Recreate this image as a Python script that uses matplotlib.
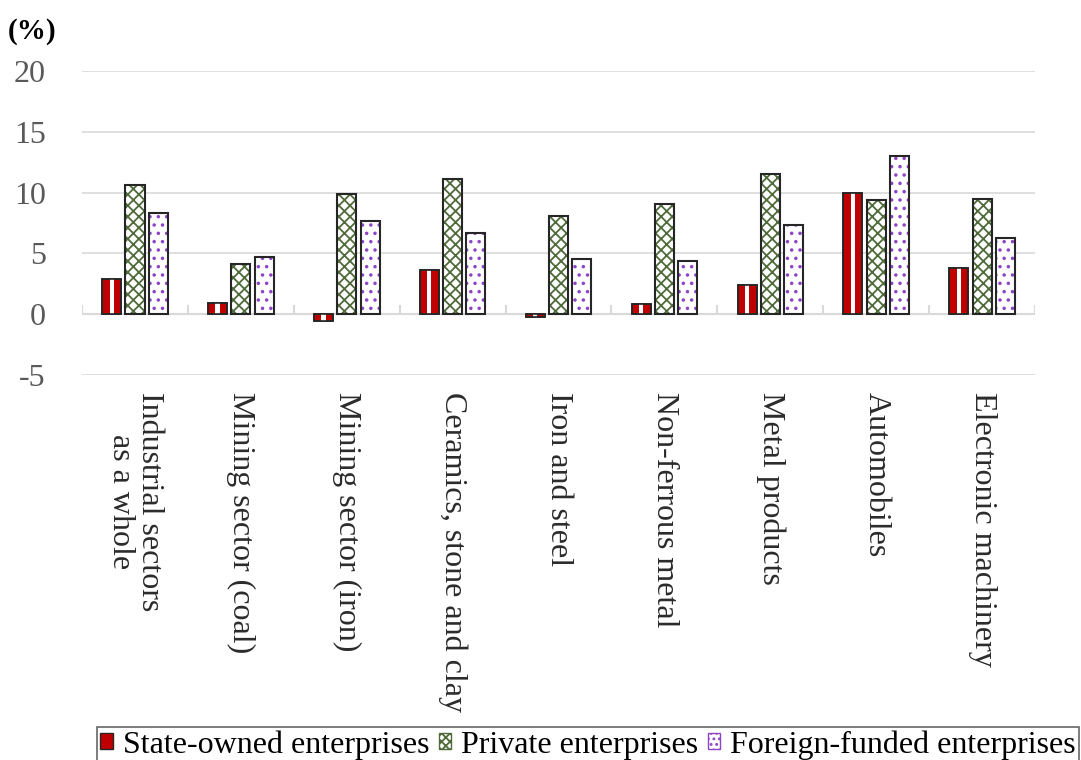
"""Growth rates by ownership type across industrial sectors (bar chart, Excel style)."""

import matplotlib
matplotlib.use("Agg")
import matplotlib.pyplot as plt
import numpy as np

categories = [
    "Industrial sectors\nas a whole",
    "Mining sector (coal)",
    "Mining sector (iron)",
    "Ceramics, stone and clay",
    "Iron and steel",
    "Non-ferrous metal",
    "Metal products",
    "Automobiles",
    "Electronic machinery",
]
state_owned = [2.9, 0.9, -0.6, 3.6, -0.2, 0.8, 2.4, 10.0, 3.8]
private = [10.6, 4.1, 9.9, 11.1, 8.1, 9.1, 11.5, 9.4, 9.5]
foreign = [8.3, 4.7, 7.7, 6.7, 4.5, 4.4, 7.3, 13.0, 6.3]
series_names = ["State-owned enterprises", "Private enterprises", "Foreign-funded enterprises"]
y_ticks = [-5, 0, 5, 10, 15, 20]

plt.rcParams["font.family"] = ["Liberation Serif", "DejaVu Serif"]
plt.rcParams["hatch.linewidth"] = 1.3

RED = "#C00000"
GREEN = "#4F6B3A"
PURPLE = "#8E44C8"
EDGE = "#262626"
GRID = "#D9D9D9"

fig = plt.figure(figsize=(10.81, 7.6), dpi=100)
ax = fig.add_axes([0.0759, 0.5066, 0.8816, 0.4000])

x = np.arange(len(categories))
w = 0.18
off = 0.22

# state-owned: red with a white stripe down the middle
ax.bar(x - off, state_owned, w, color=RED, edgecolor=EDGE, linewidth=1.2, zorder=3)
ax.bar(x - off, state_owned, w * 0.22, color="white", linewidth=0, zorder=4)
ax.bar(x - off, state_owned, w, fill=False, edgecolor=EDGE, linewidth=1.2, zorder=5)

# private: green cross-hatch
ax.bar(x, private, w, color="white", edgecolor=GREEN, hatch="xxx", linewidth=0, zorder=3)
ax.bar(x, private, w, fill=False, edgecolor=EDGE, linewidth=1.5, zorder=5)

# foreign-funded: purple dotted pattern
ax.bar(x + off, foreign, w, color="white", edgecolor=PURPLE, hatch="..", linewidth=0, zorder=3)
ax.bar(x + off, foreign, w, fill=False, edgecolor=EDGE, linewidth=1.5, zorder=5)

ax.set_xlim(-0.5, len(categories) - 0.5)
ax.set_ylim(y_ticks[0], y_ticks[-1])
ax.set_yticks(y_ticks)
ax.set_yticklabels([str(v) for v in y_ticks], fontsize=23, color="#595959")
ax.tick_params(axis="y", length=0, pad=26)
ax.grid(axis="y", color=GRID, linewidth=1.2, zorder=0)
for s in ax.spines.values():
    s.set_visible(False)

# zero axis line with category separator ticks
ax.axhline(0, color=GRID, linewidth=1.5, zorder=2)
bounds = np.arange(len(categories) + 1) - 0.5
ax.vlines(bounds, 0, 0.75, color=GRID, linewidth=1.5, zorder=2)

ax.set_xticks(x)
ax.set_xticklabels(categories, rotation=270, ha="center", va="top",
                   fontsize=23, color="#2b2b2b", linespacing=1.0)
ax.tick_params(axis="x", length=0, pad=12)

fig.text(0.007, 0.958, "(%)", fontsize=21, fontweight="bold", ha="left", va="center")

# legend handles
h1 = plt.Rectangle((0, 0), 1, 1, facecolor=RED, edgecolor=EDGE, linewidth=1)
h2 = plt.Rectangle((0, 0), 1, 1, facecolor="white", edgecolor=GREEN, hatch="xxxx", linewidth=1)
h3 = plt.Rectangle((0, 0), 1, 1, facecolor="white", edgecolor=PURPLE, hatch="...", linewidth=1)
leg = fig.legend([h1, h2, h3], series_names, loc="lower left",
                 bbox_to_anchor=(0.0897, -0.004), borderaxespad=0, ncol=3, fontsize=23,
                 handlelength=0.4, handleheight=0.4, handletextpad=0.3,
                 columnspacing=0.3, borderpad=0.1, frameon=True, fancybox=False)
leg.get_frame().set_edgecolor("#404040")
leg.get_frame().set_linewidth(1.2)

fig.savefig("out.png", dpi=100)
